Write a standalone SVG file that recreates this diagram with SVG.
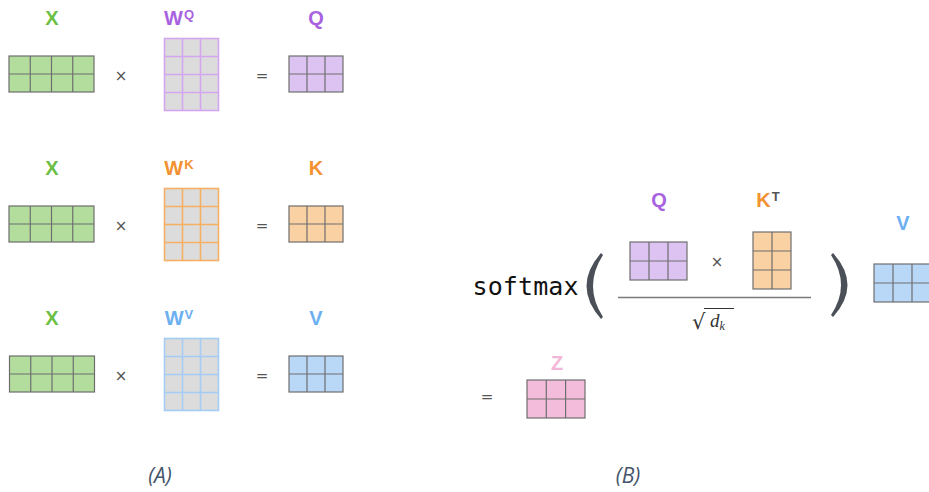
<svg xmlns="http://www.w3.org/2000/svg" width="929" height="492" viewBox="0 0 929 492">
<style>
.lbl{font-family:"Liberation Sans",Arial,sans-serif;font-weight:bold;font-size:20px;text-anchor:middle}
.sup{font-family:"Liberation Sans",Arial,sans-serif;font-weight:bold;font-size:13px}
.op{font-family:"DejaVu Sans",sans-serif;font-size:15px;fill:#555;text-anchor:middle}
.cap{font-family:"Open Sans","Liberation Sans",sans-serif;font-style:italic;font-size:21px;fill:#44546a;text-anchor:middle}
.g{stroke:#6e6e6e;stroke-width:1.2}
.green{fill:#b3dd9d}.purple{fill:#dcc3f2}.orange{fill:#f9d1a2}.blue{fill:#b9d8f8}.pink{fill:#f4bcdb}.gray{fill:#dcdcdc}
.wp{stroke:#d3a6ef;stroke-width:1.6}.wo{stroke:#f6b063;stroke-width:1.6}.wb{stroke:#a5ccf4;stroke-width:1.6}
</style>
<rect width="929" height="492" fill="#ffffff"/>

<!-- Row Q -->
<g id="rowQ">
  <text class="lbl" x="52" y="25" fill="#6cbf45">X</text>
  <g id="X1"><rect class="green g" x="9" y="56" width="85" height="36"/><path class="g" fill="none" d="M30.25 56V92M51.5 56V92M72.75 56V92M9 74H94"/></g>
  <text class="op" x="121" y="81">×</text>
  <text class="lbl" x="179" y="25" fill="#a862e0">W<tspan class="sup" dx="1" dy="-6">Q</tspan></text>
  <g id="WQ"><rect class="gray wp" x="164.5" y="38.5" width="54" height="72"/><path class="wp" fill="none" d="M182.5 38.5V110.5M200.5 38.5V110.5M164.5 56.5H218.5M164.5 74.5H218.5M164.5 92.5H218.5"/></g>
  <text class="op" x="262" y="81">=</text>
  <text class="lbl" x="316" y="25" fill="#a862e0">Q</text>
  <g id="Q1"><rect class="purple g" x="289" y="56" width="54" height="36"/><path class="g" fill="none" d="M307 56V92M325 56V92M289 74H343"/></g>
</g>

<!-- Row K -->
<g id="rowK" transform="translate(0,150)">
  <text class="lbl" x="52" y="25" fill="#6cbf45">X</text>
  <g id="X2"><rect class="green g" x="9" y="56" width="85" height="36"/><path class="g" fill="none" d="M30.25 56V92M51.5 56V92M72.75 56V92M9 74H94"/></g>
  <text class="op" x="121" y="81">×</text>
  <text class="lbl" x="179" y="25" fill="#f39232">W<tspan class="sup" dx="1" dy="-6">K</tspan></text>
  <g id="WK"><rect class="gray wo" x="164.5" y="38.5" width="54" height="72"/><path class="wo" fill="none" d="M182.5 38.5V110.5M200.5 38.5V110.5M164.5 56.5H218.5M164.5 74.5H218.5M164.5 92.5H218.5"/></g>
  <text class="op" x="262" y="81">=</text>
  <text class="lbl" x="316" y="25" fill="#f39232">K</text>
  <g id="K1"><rect class="orange g" x="289" y="56" width="54" height="36"/><path class="g" fill="none" d="M307 56V92M325 56V92M289 74H343"/></g>
</g>

<!-- Row V -->
<g id="rowV" transform="translate(0,300)">
  <text class="lbl" x="52" y="25" fill="#6cbf45">X</text>
  <g id="X3"><rect class="green g" x="9.5" y="56" width="85" height="36"/><path class="g" fill="none" d="M30.75 56V92M52 56V92M73.25 56V92M9.5 74H94.5"/></g>
  <text class="op" x="121" y="81">×</text>
  <text class="lbl" x="179" y="25" fill="#6db0f0">W<tspan class="sup" dx="1" dy="-6">V</tspan></text>
  <g id="WV"><rect class="gray wb" x="164.5" y="38.5" width="54" height="72"/><path class="wb" fill="none" d="M182.5 38.5V110.5M200.5 38.5V110.5M164.5 56.5H218.5M164.5 74.5H218.5M164.5 92.5H218.5"/></g>
  <text class="op" x="262" y="81">=</text>
  <text class="lbl" x="316" y="25" fill="#6db0f0">V</text>
  <g id="V1"><rect class="blue g" x="289" y="56" width="54" height="36"/><path class="g" fill="none" d="M307 56V92M325 56V92M289 74H343"/></g>
</g>

<!-- Attention formula -->
<g id="formula">
  <text x="472.5" y="295" font-family="'DejaVu Sans Mono',monospace" font-size="25" fill="#111" textLength="106">softmax</text>
  <path d="M601 253 Q572 286 601 319 L603 317 Q583 286 603 255 Z" fill="#4b5058"/>
  <path d="M833 253 Q862 285 833 317 L831 315 Q851 285 831 255 Z" fill="#4b5058"/>
  <text class="lbl" x="659" y="207" fill="#a862e0">Q</text>
  <g id="Q2"><rect class="purple g" x="630" y="242" width="57" height="38"/><path class="g" fill="none" d="M649 242V280M668 242V280M630 261H687"/></g>
  <text class="op" x="717" y="267">×</text>
  <text class="lbl" x="768" y="207" fill="#f39232">K<tspan class="sup" fill="#555" dx="1" dy="-6">T</tspan></text>
  <g id="KT"><rect class="orange g" x="753" y="232" width="38" height="57"/><path class="g" fill="none" d="M772 232V289M753 251H791M753 270H791"/></g>
  <line x1="618" y1="297.5" x2="811" y2="297.5" stroke="#7a7a7a" stroke-width="1.6"/>
  <text x="692" y="329" font-family="'DejaVu Serif',serif" font-size="21" fill="#333">√</text>
  <line x1="704" y1="308.5" x2="734" y2="308.5" stroke="#333" stroke-width="1"/>
  <text x="710" y="327" font-family="'Liberation Serif',serif" font-style="italic" font-size="19" fill="#333">d<tspan font-size="12" dy="3">k</tspan></text>
  <text class="lbl" x="903" y="230" fill="#6db0f0">V</text>
  <g id="V2"><rect class="blue g" x="874" y="264" width="57" height="38"/><path class="g" fill="none" d="M893 264V302M912 264V302M874 283H931"/></g>
</g>

<g id="result">
  <text class="op" x="487" y="402">=</text>
  <text class="lbl" x="557" y="370" fill="#f2b7d6">Z</text>
  <g id="Z"><rect class="pink g" x="527" y="380" width="58" height="38"/><path class="g" fill="none" d="M546.3 380V418M565.6 380V418M527 399H585"/></g>
</g>

<text class="cap" x="160" y="483">(A)</text>
<text class="cap" x="628" y="483">(B)</text>
</svg>
